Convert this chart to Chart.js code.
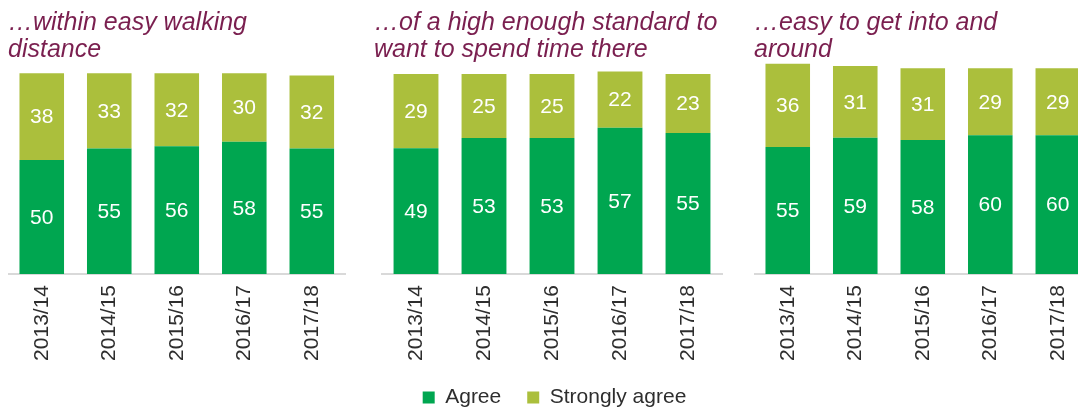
<!DOCTYPE html>
<html>
<head>
<meta charset="utf-8">
<title>Town centre perceptions</title>
<script src="https://cdn.jsdelivr.net/npm/chart.js@4.4.1/dist/chart.umd.min.js"></script>
<style>
  html, body { margin: 0; padding: 0; background: #fff; overflow: hidden; width: 1078px; height: 407px; }
  canvas { position: absolute; top: 0; }
</style>
</head>
<body>
<canvas id="walking" width="340" height="418" style="left:8px"></canvas>
<canvas id="standard" width="361" height="418" style="left:374px"></canvas>
<canvas id="access" width="340" height="418" style="left:754px"></canvas>

<script>
// Survey years shared by all three panels
const years = ['2013/14', '2014/15', '2015/16', '2016/17', '2017/18'];

// Legend / series names
const seriesNames = ['Agree', 'Strongly agree'];

// Panel titles (two lines each)
const walkingTitle = ['…within easy walking', 'distance'];
const standardTitle = ['…of a high enough standard to', 'want to spend time there'];
const accessTitle = ['…easy to get into and', 'around'];

// Percentages per panel
const walkingAgree = [50, 55, 56, 58, 55];
const walkingStrongly = [38, 33, 32, 30, 32];

const standardAgree = [49, 53, 53, 57, 55];
const standardStrongly = [29, 25, 25, 22, 23];

const accessAgree = [55, 59, 58, 60, 60];
const accessStrongly = [36, 31, 31, 29, 29];

const FONT = '"Liberation Sans", Arial, Helvetica, sans-serif';
const AGREE_COLOR = '#00a650';
const STRONG_COLOR = '#abbf3c';
const TITLE_COLOR = '#7a1f4f';
const TEXT_COLOR = '#2e2e2e';

// Writes each segment's value in white at the middle of its bar segment
const segmentLabels = {
  id: 'segmentLabels',
  afterDatasetsDraw(chart) {
    const ctx = chart.ctx;
    ctx.save();
    ctx.fillStyle = '#ffffff';
    ctx.font = '21px ' + FONT;
    ctx.textAlign = 'center';
    ctx.textBaseline = 'middle';
    chart.data.datasets.forEach((ds, i) => {
      const meta = chart.getDatasetMeta(i);
      if (meta.hidden) return;
      meta.data.forEach((bar, j) => {
        const p = bar.getProps(['x', 'y', 'base'], true);
        ctx.fillText(String(ds.data[j]), p.x, (p.y + p.base) / 2 + 1);
      });
    });
    ctx.restore();
  }
};

function buildPanel(canvasId, title, agree, strongly, yMax, cfg) {
  const scales = {
    x: {
      stacked: true,
      grid: { display: false, drawTicks: false },
      border: { display: true, color: '#d9d9d9', width: 2 },
      ticks: {
        color: TEXT_COLOR,
        font: { family: FONT, size: 21 },
        minRotation: 90,
        maxRotation: 90,
        autoSkip: false,
        padding: 11
      },
      afterFit(scale) { scale.height = 87; }
    },
    y: {
      stacked: true,
      min: 0,
      max: yMax,
      grid: { display: false, drawTicks: false },
      border: { display: false },
      ticks: { display: false },
      afterFit(scale) { scale.width = cfg.leftInset; }
    }
  };
  if (cfg.rightInset) {
    scales.yRight = {
      position: 'right',
      grid: { display: false, drawTicks: false },
      border: { display: false },
      ticks: { display: false },
      afterFit(scale) { scale.width = cfg.rightInset; }
    };
  }

  return new Chart(document.getElementById(canvasId), {
    type: 'bar',
    data: {
      labels: years,
      datasets: [
        { label: seriesNames[0], data: agree, backgroundColor: AGREE_COLOR, borderWidth: 0 },
        { label: seriesNames[1], data: strongly, backgroundColor: STRONG_COLOR, borderWidth: 0 }
      ]
    },
    options: {
      responsive: false,
      animation: false,
      events: [],
      devicePixelRatio: 1,
      layout: { padding: { left: 0, right: 0, top: 0, bottom: cfg.bottomPad || 0 } },
      datasets: { bar: { barPercentage: 0.66, categoryPercentage: 1 } },
      scales,
      plugins: {
        title: {
          display: true,
          text: title,
          align: 'start',
          color: TITLE_COLOR,
          font: { family: FONT, size: 25, style: 'italic', weight: 'normal', lineHeight: 1.06 },
          padding: { top: 10, bottom: 0 }
        },
        legend: {
          display: !!cfg.legend,
          position: 'bottom',
          labels: {
            color: TEXT_COLOR,
            font: { family: FONT, size: 21 },
            boxWidth: 12,
            boxHeight: 12,
            padding: 26
          }
        },
        tooltip: { enabled: false }
      }
    },
    plugins: [segmentLabels]
  });
}

// Middle panel carries the shared legend; the outer panels reserve the same space
const standardChart = buildPanel('standard', standardTitle, standardAgree, standardStrongly, 82.3,
  { leftInset: 8, rightInset: 13, legend: true });
const legendSpace = standardChart.legend.height;

buildPanel('walking', walkingTitle, walkingAgree, walkingStrongly, 92.5,
  { leftInset: 0, bottomPad: legendSpace });
buildPanel('access', accessTitle, accessAgree, accessStrongly, 91.3,
  { leftInset: 0, bottomPad: legendSpace });
</script>
</body>
</html>
